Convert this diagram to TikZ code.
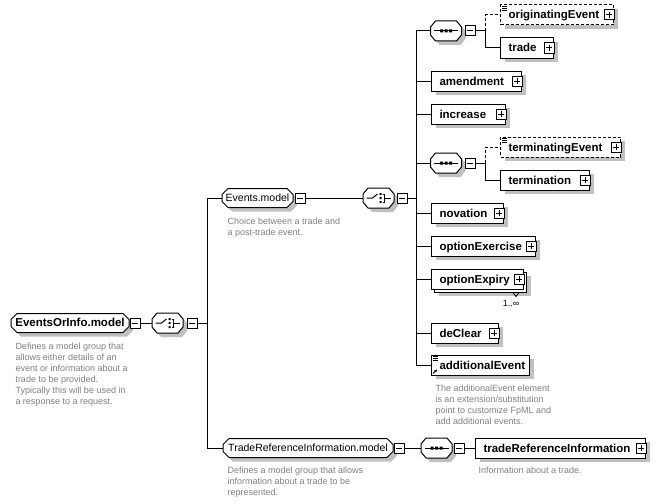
\documentclass[tikz,border=0pt]{standalone}
\usepackage{fontspec}
\setmainfont{Liberation Sans}
\usetikzlibrary{shapes.misc,shadows,arrows.meta}
\definecolor{shgrey}{RGB}{192,192,192}
\definecolor{notegrey}{RGB}{128,128,128}
\tikzset{
  elembase/.style={draw,fill=white,minimum height=20pt,inner xsep=8pt,inner ysep=0pt,
    text width=#1,align=left,anchor=west,text height=8pt,text depth=0pt,
    font=\fontsize{11.5}{12}\selectfont\bfseries},
  elem/.style={elembase=#1,boxshadow},
  stackelem/.style={elembase=#1,
    general shadow={fill=shgrey,draw=none,shadow xshift=7pt,shadow yshift=-7pt},
    general shadow={fill=white,draw=black,shadow xshift=3pt,shadow yshift=-3pt}},
  compositor/.style={rectangle,minimum width=31pt,minimum height=20pt,inner sep=0pt,
    append after command={\pgfextra{
      \begin{scope}[shift={(\tikzlastnode.center)}]
        \fill[shgrey] (-11.5,0) -- (-6.5,-6) -- (14.5,-6) -- (19.5,0) -- (19.5,8) -- (14.5,14) -- (-6.5,14) -- (-11.5,8) -- cycle;
        \filldraw[fill=white] (-15.5,-4) -- (-10.5,-10) -- (10.5,-10) -- (15.5,-4) -- (15.5,4) -- (10.5,10) -- (-10.5,10) -- (-15.5,4) -- cycle;
        #1
      \end{scope}}}},
}
\begin{document}
\begin{tikzpicture}[x=1pt,y=-1pt,line width=1pt]
    \tikzstyle{boxshadow}=[general shadow={fill=shgrey,draw=none,shadow xshift=4pt,shadow yshift=-4pt}]
    \tikzstyle{optional}=[dash pattern=on 3pt off 2pt]
    \tikzstyle{mgroup}=[draw,fill=white,boxshadow,chamfered rectangle,chamfered rectangle sep=3pt,
      minimum height=19pt,inner sep=0pt,text height=7.5pt,text depth=0pt,
      font=\fontsize{10.5}{12}\selectfont]
    \tikzstyle{seq}=[compositor={
        \draw (-12,0) -- (12,0);
        \fill (-6,-1.5) rectangle (-3,1.5) (-1.5,-1.5) rectangle (1.5,1.5) (3,-1.5) rectangle (6,1.5);}]
    \tikzstyle{choice}=[compositor={
        \draw (-12,0) -- (-6,0) -- (-1,-4);
        \fill (1,-5) rectangle (3,-3) (1,-1) rectangle (3,1) (1,3) rectangle (3,5);
        \draw (4,-4) -- (6,-4) -- (6,4) -- (4,4) (6,0) -- (12,0);}]
    \tikzstyle{minusbox}=[draw,fill=white,minimum size=10pt,inner sep=0pt,path picture={
      \draw[shift={(path picture bounding box.center)}] (-3,0) -- (3,0);}]
    \tikzstyle{plusbox}=[draw,fill=white,minimum size=10pt,inner sep=0pt,path picture={
      \draw[shift={(path picture bounding box.center)}] (-3,0) -- (3,0) (0,-3) -- (0,3);}]
    \tikzstyle{note}=[anchor=base west,align=left,inner sep=0pt,text=notegrey,font=\fontsize{9}{11}\selectfont]
    \useasboundingbox (0,0) rectangle (660,503);
    % root group
    \node[mgroup,minimum width=118pt,font=\fontsize{11.5}{12}\selectfont\bfseries] (eoi) at (70,323) {EventsOrInfo.model};
    \node[minusbox] (eoim) at (135,323) {};
    \node[choice] (ch1) at (167.5,323) {};
    \node[minusbox] (ch1m) at (192,323) {};
    \node[note] (eoinote) at (15,404) {Defines a model group that\\allows either details of an\\event or information about a\\trade to be provided.\\Typically this will be used in\\a response to a request.};
    % Events.model
    \node[mgroup,minimum width=71pt] (evm) at (257.5,198) {Events.model};
    \node[minusbox] (evmm) at (300,198) {};
    \node[note] (evnote) at (227,235) {Choice between a trade and\\a post-trade event.};
    \node[choice] (ch2) at (378.5,198) {};
    \node[minusbox] (ch2m) at (402,198) {};
    \node[seq] (seq1) at (446,31) {};
    \node[minusbox] (seq1m) at (470,31) {};
    \node[elem=97pt,optional] (orig) at (500,15) {originatingEvent};
    \node[plusbox] (origp) at ([xshift=-5pt]orig.east) {};
    \node[elem=37pt] (trade) at (500,48) {trade};
    \node[plusbox] (tradep) at ([xshift=-5pt]trade.east) {};
    \node[elem=74pt] (amend) at (431,81) {amendment};
    \node[plusbox] (amendp) at ([xshift=-5pt]amend.east) {};
    \node[elem=58pt] (incr) at (431,114) {increase};
    \node[plusbox] (incrp) at ([xshift=-5pt]incr.east) {};
    \node[seq] (seq2) at (446,163) {};
    \node[minusbox] (seq2m) at (470,163) {};
    \node[elem=104pt,optional] (termev) at (500,147) {terminatingEvent};
    \node[plusbox] (termevp) at ([xshift=-5pt]termev.east) {};
    \node[elem=73pt] (term) at (500,180) {termination};
    \node[plusbox] (termp) at ([xshift=-5pt]term.east) {};
    \node[elem=56pt] (nov) at (431,213) {novation};
    \node[plusbox] (novp) at ([xshift=-5pt]nov.east) {};
    \node[elem=88pt] (optex) at (431,246) {optionExercise};
    \node[plusbox] (optexp) at ([xshift=-5pt]optex.east) {};
    \node[stackelem=76pt] (optexy) at (431,279) {optionExpiry};
    \node[plusbox] (optexyp) at ([xshift=-5pt]optexy.east) {};
    \draw[line width=0.8pt] ([xshift=-11pt,yshift=-3pt]optexy.south east) -- ++(3,4) -- ++(3,-4);
    \node[inner sep=0pt,font=\fontsize{9}{11}\selectfont] (optexyn) at (511,303.5) {1..∞};
    \node[elem=51pt] (declr) at (431,333) {deClear};
    \node[plusbox] (declrp) at ([xshift=-5pt]declr.east) {};
    \node[elem=82pt] (addev) at (431,365) {additionalEvent};
    \node[note] (addnote) at (435,424) {The additionalEvent element\\is an extension/substitution\\point to customize FpML and\\add additional events.};
    % TradeReferenceInformation.model
    \node[mgroup,minimum width=170pt] (trim) at (308,448) {TradeReferenceInformation.model};
    \node[minusbox] (trimm) at (399,448) {};
    \node[note] (trinote) at (227,495) {Defines a model group that allows\\information about a trade to be\\represented.};
    \node[seq] (seq3) at (436.5,448) {};
    \node[minusbox] (seq3m) at (459,448) {};
    \node[elem=154pt] (trel) at (475,448) {tradeReferenceInformation};
    \node[plusbox] (trelp) at ([xshift=-5pt]trel.east) {};
    \node[note] (trelnote) at (478,473) {Information about a trade.};
    % icons
    \draw[line width=0.7pt] ([xshift=2pt,yshift=-1.5pt]orig.north west) -- ++(5,0) ++(-5,2) -- ++(5,0) ++(-5,2) -- ++(5,0);
    \draw[line width=0.7pt] ([xshift=2pt,yshift=-1.5pt]termev.north west) -- ++(5,0) ++(-5,2) -- ++(5,0) ++(-5,2) -- ++(5,0);
    \draw[line width=0.7pt] ([xshift=2pt,yshift=-2pt]addev.north west) -- ++(5,0) ++(-5,2) -- ++(5,0) ++(-5,2) -- ++(5,0);
    \draw[line width=0.8pt,-{Stealth[length=3pt,width=3pt]}] ([xshift=2pt,yshift=2pt]addev.south west) -- ++(4,-4);
    % connectors
    \draw (eoim.east) to (ch1.west);
    \draw (ch1m.east) -- ++(10,0) |- (evm.west);
    \draw (ch1m.east) -- ++(10,0) |- (trim.west);
    \draw (evmm.east) to (ch2.west);
    \draw (ch2m.east) -- ++(9,0) |- (seq1.west);
    \draw (ch2m.east) -- ++(9,0) |- (amend.west);
    \draw (ch2m.east) -- ++(9,0) |- (incr.west);
    \draw (ch2m.east) -- ++(9,0) |- (seq2.west);
    \draw (ch2m.east) -- ++(9,0) |- (nov.west);
    \draw (ch2m.east) -- ++(9,0) |- (optex.west);
    \draw (ch2m.east) -- ++(9,0) |- (optexy.west);
    \draw (ch2m.east) -- ++(9,0) |- (declr.west);
    \draw (ch2m.east) -- ++(9,0) |- (addev.west);
    \draw[optional] (seq1m.east) -- ++(10,0) |- (orig.west);
    \draw (seq1m.east) -- ++(10,0) |- (trade.west);
    \draw[optional] (seq2m.east) -- ++(10,0) |- (termev.west);
    \draw (seq2m.east) -- ++(10,0) |- (term.west);
    \draw (trimm.east) to (seq3.west);
    \draw (seq3m.east) to (trel.west);
\end{tikzpicture}
\end{document}
